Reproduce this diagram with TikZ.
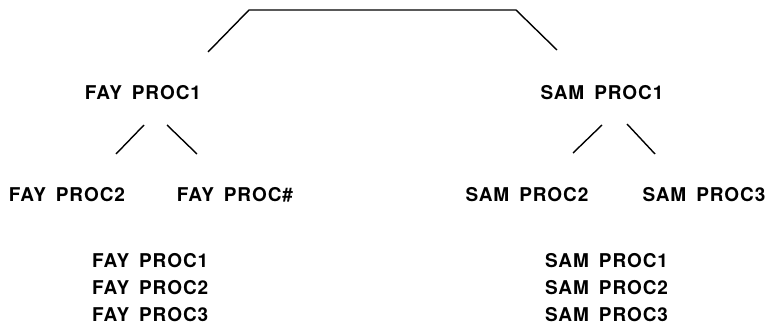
\documentclass[tikz,border=0pt]{standalone}
\usepackage{fontspec}
\setmainfont{TeX Gyre Heros}[LetterSpace=5,WordSpace=1.6]
\usetikzlibrary{calc}
\begin{document}
\begin{tikzpicture}[x=1pt,y=-1pt,
  lbl/.style={inner sep=0pt,font=\fontsize{19}{23}\selectfont\bfseries},
  ln/.style={line width=1.4pt}]
\useasboundingbox (0,0) rectangle (765,326);
\node[lbl] (fay1) at (143,93) {FAY PROC1};
\node[lbl] (fay2) at (67,195) {FAY PROC2};
\node[lbl] (fayh) at (235,195) {FAY PROC\#};
\node[lbl] (sam1) at (602,93) {SAM PROC1};
\node[lbl] (sam2) at (527,195) {SAM PROC2};
\node[lbl] (sam3) at (704,195) {SAM PROC3};
\node[lbl,anchor=west] (fayl1) at (92,261) {FAY PROC1};
\node[lbl,anchor=west] (fayl2) at (92,288) {FAY PROC2};
\node[lbl,anchor=west] (fayl3) at (92,315) {FAY PROC3};
\node[lbl,anchor=west] (saml1) at (545,261) {SAM PROC1};
\node[lbl,anchor=west] (saml2) at (545,288) {SAM PROC2};
\node[lbl,anchor=west] (saml3) at (545,315) {SAM PROC3};
\draw[ln] ($(fay1.center)+(65,-41)$) -- ++(41,-42) -- ($(sam1.center)+(-86,-83)$) -- ++(41,40);
\draw[ln] ($(fay1.center)+(1,32)$) -- ++(-28,29);
\draw[ln] ($(fay1.center)+(24,32)$) -- ++(30,29);
\draw[ln] ($(sam1.center)+(0,32)$) -- ++(-29,28);
\draw[ln] ($(sam1.center)+(25,31)$) -- ++(28,30);
\end{tikzpicture}
\end{document}
